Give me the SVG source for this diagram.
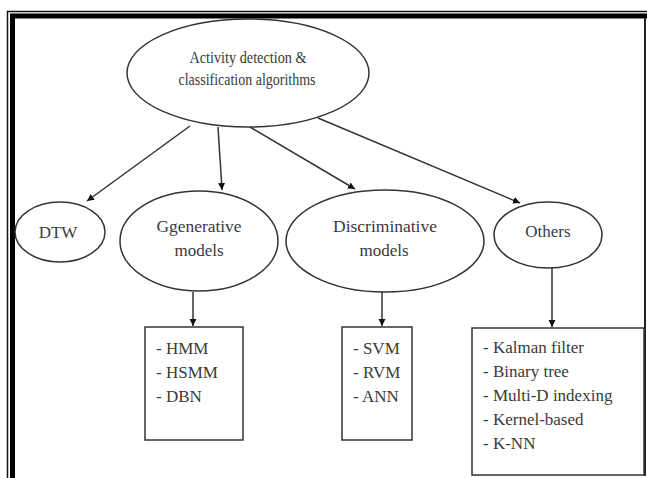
<svg xmlns="http://www.w3.org/2000/svg" width="647" height="478" viewBox="0 0 647 478">
<style>
.n{fill:#fff;stroke:#333;stroke-width:1.5}
.t{font-family:'Liberation Serif','Times New Roman',Times,'DejaVu Serif',serif;font-size:17px;fill:#3a3a3a;text-anchor:middle}
.l{font-family:'Liberation Serif','Times New Roman',Times,'DejaVu Serif',serif;font-size:17px;fill:#3a3a3a}
.c{stroke:#333;stroke-width:1.5;fill:none;marker-end:url(#ah)}
</style>
<defs>
<marker id="ah" markerWidth="8" markerHeight="8" refX="7" refY="4" orient="auto" markerUnits="userSpaceOnUse">
<path d="M0,0.5 L7,4 L0,7.5 Z" fill="#111"/>
</marker>
</defs>
<rect width="647" height="478" fill="#fff"/>
<g id="frame">
<path d="M7.5,478 V11.5 H647" fill="none" stroke="#111" stroke-width="1.5"/>
<path d="M12.5,478 V16 H647" fill="none" stroke="#000" stroke-width="5"/>
<path d="M645,18 V476" fill="none" stroke="#222" stroke-width="2"/>
</g>
<g id="connectors">
<line class="c" x1="190" y1="126" x2="87" y2="201"/>
<line class="c" x1="218" y1="127" x2="222" y2="190"/>
<line class="c" x1="250" y1="127" x2="355" y2="189"/>
<line class="c" x1="318" y1="118" x2="520" y2="203"/>
<line class="c" x1="193" y1="292" x2="193" y2="326"/>
<line class="c" x1="382" y1="292" x2="382" y2="326"/>
<line class="c" x1="552" y1="268" x2="552" y2="327"/>
</g>
<g id="root">
<ellipse class="n" cx="248" cy="73" rx="121" ry="54"/>
<text class="t" x="248" y="63" textLength="117" lengthAdjust="spacingAndGlyphs">Activity detection &amp;</text>
<text class="t" x="247" y="85" textLength="137" lengthAdjust="spacingAndGlyphs">classification algorithms</text>
</g>
<g id="dtw">
<ellipse class="n" cx="60" cy="232" rx="45" ry="30"/>
<text class="t" x="58" y="238">DTW</text>
</g>
<g id="generative">
<ellipse class="n" cx="199" cy="241" rx="79" ry="50"/>
<text class="t" x="199" y="232" textLength="85" lengthAdjust="spacingAndGlyphs">Ggenerative</text>
<text class="t" x="199" y="256">models</text>
</g>
<g id="discriminative">
<ellipse class="n" cx="385" cy="241" rx="99" ry="51"/>
<text class="t" x="385" y="232" textLength="104" lengthAdjust="spacingAndGlyphs">Discriminative</text>
<text class="t" x="384" y="256">models</text>
</g>
<g id="others">
<ellipse class="n" cx="548" cy="235" rx="54" ry="33"/>
<text class="t" x="548" y="237">Others</text>
</g>
<g id="gen-list">
<rect class="n" x="145" y="327" width="98" height="113"/>
<text class="l" x="156" y="354">- HMM</text>
<text class="l" x="156" y="378">- HSMM</text>
<text class="l" x="156" y="402">- DBN</text>
</g>
<g id="disc-list">
<rect class="n" x="342" y="327" width="70" height="113"/>
<text class="l" x="353" y="354">- SVM</text>
<text class="l" x="353" y="378">- RVM</text>
<text class="l" x="353" y="402">- ANN</text>
</g>
<g id="others-list">
<rect class="n" x="472" y="328" width="172" height="147"/>
<text class="l" x="483" y="353">- Kalman filter</text>
<text class="l" x="483" y="377">- Binary tree</text>
<text class="l" x="483" y="401">- Multi-D indexing</text>
<text class="l" x="483" y="425">- Kernel-based</text>
<text class="l" x="483" y="449">- K-NN</text>
</g>
</svg>
